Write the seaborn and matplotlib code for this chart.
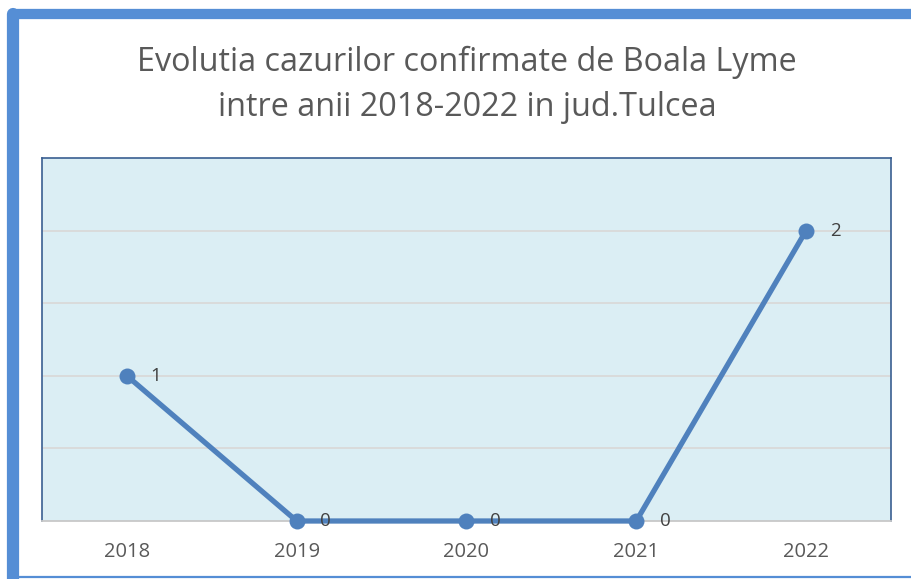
import matplotlib
matplotlib.use("Agg")
import matplotlib.pyplot as plt
import seaborn as sns
import pandas as pd
from matplotlib.lines import Line2D

years = ["2018", "2019", "2020", "2021", "2022"]
cases = [1, 0, 0, 0, 2]
title = "Evolutia cazurilor confirmate de Boala Lyme\nintre anii 2018-2022 in jud.Tulcea"

sns.set_theme(style="white")
plt.rcParams['font.family'] = ['Open Sans', 'DejaVu Sans']

W, H = 912, 579
fig = plt.figure(figsize=(W/100, H/100), dpi=100)
fig.patch.set_facecolor("white")

ax = fig.add_axes([42/W, 1-521/H, (891-42)/W, (521-158)/H])
ax.set_facecolor("#dbeef4")

df = pd.DataFrame({"year": years, "cases": cases})
df["x"] = range(len(years))
sns.lineplot(data=df, x="x", y="cases", ax=ax, color="#4f81bd", linewidth=3.8,
             marker="o", markersize=11.5, markeredgewidth=0, zorder=3,
             clip_on=False)

for xi, v in zip(df["x"], df["cases"]):
    ax.annotate(str(v), (xi, v), xytext=(17, 0), textcoords="offset points",
                ha="left", va="center", fontsize=13.5, color="#404040")

ax.set_xlim(-0.5, len(years) - 0.5)
ax.set_ylim(0, 2.5)
ax.set_yticks([0.5, 1, 1.5, 2])
ax.set_yticklabels([])
ax.tick_params(axis="y", length=0)
ax.grid(axis="y", color="#d9d9d9", linewidth=1.3)
ax.set_axisbelow(True)
ax.set_xticks(df["x"])
ax.set_xticklabels(years, fontsize=14.5, color="#595959")
ax.tick_params(axis="x", length=0, pad=15)
ax.set_xlabel("")
ax.set_ylabel("")
for s in ["left", "top", "right"]:
    ax.spines[s].set_color("#3a5f91")
    ax.spines[s].set_linewidth(1.2)
    ax.spines[s].set_visible(True)
ax.spines["bottom"].set_color("#c8c8c8")
ax.spines["bottom"].set_linewidth(1.3)
ax.spines["bottom"].set_visible(True)

fig.text(467/W, 1-85/H, title, ha="center", va="center", fontsize=23.3,
         color="#595959", linespacing=1.45)

# outer blue frame
blue = "#558ed5"
fig.add_artist(Line2D([13/W, 13/W], [0, 1-14/H], color=blue, linewidth=8.8,
                      solid_capstyle="round", transform=fig.transFigure))
fig.add_artist(Line2D([13/W, 1.01], [1-14/H, 1-14/H], color=blue, linewidth=7.4,
                      solid_capstyle="round", transform=fig.transFigure))
fig.add_artist(Line2D([13/W, 1], [1-577/H, 1-577/H], color=blue, linewidth=1.6,
                      transform=fig.transFigure))

fig.savefig("out.png", dpi=100)
